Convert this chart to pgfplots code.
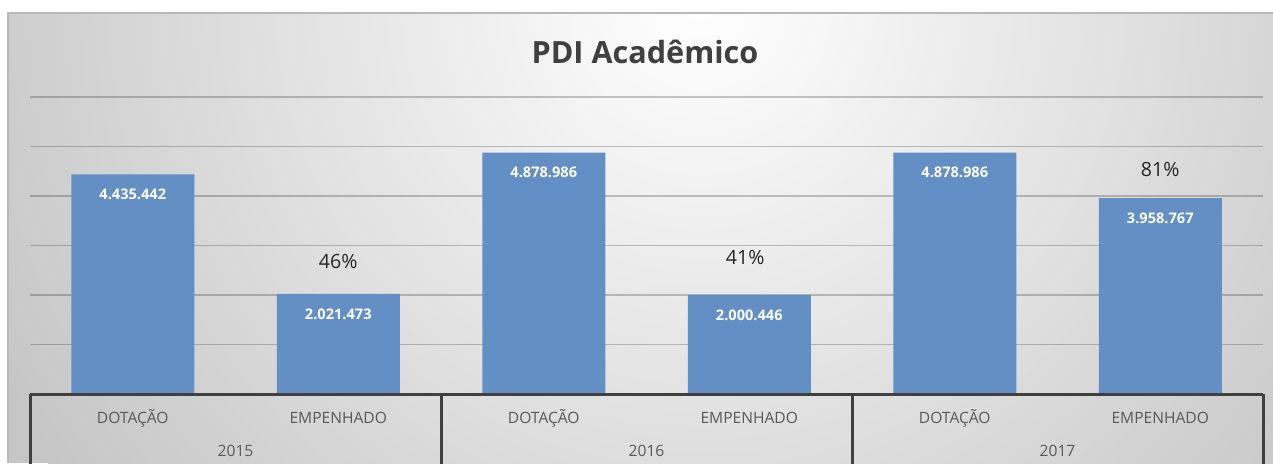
\documentclass[border=0pt]{standalone}
\usepackage{pgfplots}
\pgfplotsset{compat=1.18}
\usepackage{pgfplotstable}
\usepackage{fontspec}
\setmainfont{Open Sans}

\definecolor{barblue}{HTML}{638FC5}
\definecolor{darkline}{HTML}{404040}
\definecolor{labgray}{HTML}{595959}

% valores do PDI (dotacao / empenhado)
\pgfplotstableread{
x y lbl
0 4435442 4.435.442
1 2021473 2.021.473
2 4878986 4.878.986
3 2000446 2.000.446
4 4878986 4.878.986
5 3958767 3.958.767
}\pdidata

\begin{document}
\begin{tikzpicture}
  % fundo
  \fill[white] (0,0) rectangle (636.5pt,-231.5pt);
  \begin{scope}
    \clip (4pt,-6.5pt) rectangle (636.5pt,-231.5pt);
    \fill[gray!45] (4pt,-6.5pt) rectangle (636.5pt,-231.5pt);
    \shade[inner color=white, outer color=gray!45] (350pt,0pt) circle (400pt);
  \end{scope}
  \draw[gray!55, line width=0.6pt] (4pt,-231.5pt) |- (636.5pt,-6.5pt);

  \node[font=\fontsize{15.3}{17}\selectfont\bfseries, text=darkline] at (322.5pt,-26pt) {PDI Acadêmico};

  \begin{axis}[
      at={(15pt,-197pt)}, anchor=south west,
      scale only axis, width=616.5pt, height=148.5pt,
      xmin=-0.5, xmax=5.5, ymin=0, ymax=6000000,
      clip=false,
      axis line style={draw=none},
      major tick length=0pt,
      scaled y ticks=false,
      ytick={1000000,2000000,3000000,4000000,5000000,6000000},
      yticklabels={},
      ymajorgrids, grid style={black, opacity=0.22, line width=0.75pt},
      xtick={0,1,2,3,4,5},
      xticklabels={DOTAÇÃO,EMPENHADO,DOTAÇÃO,EMPENHADO,DOTAÇÃO,EMPENHADO},
      xticklabel style={font=\fontsize{7.8}{9}\selectfont, text=labgray, anchor=center, yshift=-12pt},
      every node near coord/.append style={anchor=center, yshift=-10pt,
        font=\fontsize{7.3}{8}\selectfont\bfseries, text=white},
    ]
    \addplot[ybar, fill=barblue, draw=none, bar width=61.5pt,
      nodes near coords, point meta=explicit symbolic]
      table[x=x, y=y, meta=lbl] {\pdidata};

    % linha de base e separadores de grupo
    \draw[darkline, line width=1.5pt] (axis cs:-0.5,0) -- (axis cs:5.5,0);
    \draw[darkline, line width=1.5pt] (axis cs:-0.5,0) -- ([yshift=-36pt]axis cs:-0.5,0);
    \draw[darkline, line width=1.5pt] (axis cs:1.5,0) -- ([yshift=-36pt]axis cs:1.5,0);
    \draw[darkline, line width=1.5pt] (axis cs:3.5,0) -- ([yshift=-36pt]axis cs:3.5,0);
    \draw[darkline, line width=1.5pt] (axis cs:5.5,0) -- ([yshift=-36pt]axis cs:5.5,0);
    \node[font=\fontsize{7.8}{9}\selectfont, text=labgray] at ([yshift=-28.5pt]axis cs:0.5,0) {2015};
    \node[font=\fontsize{7.8}{9}\selectfont, text=labgray] at ([yshift=-28.5pt]axis cs:2.5,0) {2016};
    \node[font=\fontsize{7.8}{9}\selectfont, text=labgray] at ([yshift=-28.5pt]axis cs:4.5,0) {2017};

    % percentuais empenhados
    \node[font=\fontsize{9.8}{11}\selectfont, text=black!85] at (axis cs:1,2667000) {46\%};
    \node[font=\fontsize{9.8}{11}\selectfont, text=black!85] at (axis cs:2.98,2768000) {41\%};
    \node[font=\fontsize{9.8}{11}\selectfont, text=black!85] at (axis cs:5,4545000) {81\%};
  \end{axis}
  \pgfresetboundingbox
  \path[use as bounding box] (0,0) rectangle (636.5pt,-231.5pt);
\end{tikzpicture}
\end{document}
